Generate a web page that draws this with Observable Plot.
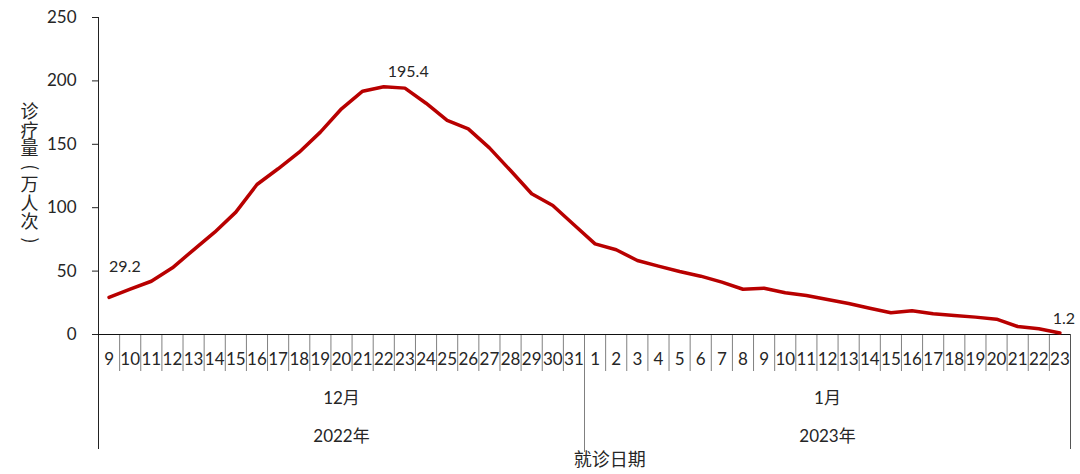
<!DOCTYPE html>
<html>
<head>
<meta charset="utf-8">
<script src="https://cdn.jsdelivr.net/npm/d3@7"></script>
<script src="https://cdn.jsdelivr.net/npm/@observablehq/plot@0.6"></script>
<style>
  html, body { margin: 0; padding: 0; background: #fff; }
</style>
</head>
<body>
<div id="chart"></div>
<script>
// daily visits (10k person-times), 2022-12-09 .. 2023-01-23
const days = [
  "9","10","11","12","13","14","15","16","17","18","19","20","21","22","23","24","25","26","27","28","29","30","31",
  "1","2","3","4","5","6","7","8","9","10","11","12","13","14","15","16","17","18","19","20","21","22","23"
];
const values = [
  29.2, 35.7, 42.0, 52.6, 66.8, 80.7, 96.5, 118.3, 130.7, 143.8, 159.6, 178.0, 191.9, 195.4, 194.3, 182.4, 168.8, 162.2, 147.2, 129.3, 111.0, 101.7, 86.5,
  71.5, 66.8, 58.4, 53.9, 49.7, 46.0, 41.3, 35.7, 36.5, 32.9, 30.8, 27.6, 24.4, 20.7, 17.1, 18.7, 16.3, 15.0, 13.7, 12.1, 6.3, 4.5, 1.2
];
const months = ["12月", "1月"];
const monthDays = [23, 23];
const years = ["2022年", "2023年"];
const yTicks = [0, 50, 100, 150, 200, 250];
const labelled = [0, 13, 45]; // indexes with a data label
const yTitle = ["诊", "疗", "量", "(", "万", "人", "次", ")"];

const data = values.map((v, i) => ({i, day: days[i], v}));

// month spans in index space
let start = 0;
const spans = months.map((m, k) => {
  const s = {label: m, year: years[k], from: start - 0.5, to: start + monthDays[k] - 0.5};
  start += monthDays[k];
  return s;
});
const monthBreaks = spans.slice(1).map(s => s.from);
const dayBreaks = d3.range(0, days.length - 1).map(i => i + 0.5).filter(b => !monthBreaks.includes(b));

const W = 1080, H = 474, mTop = 17, mBottom = 140, mLeft = 98, mRight = 10;
const yMax = 250;
const unit = yMax / (H - mTop - mBottom);
// pixels below the baseline expressed in y units
const below = px => -px * unit;
// absolute pixel row expressed in y units
const row = py => (H - mBottom - py) * unit;

const font = "Lato, 'Noto Sans CJK SC', sans-serif";
const cjk = "'Noto Sans CJK SC', sans-serif";
const ink = "#262626";
const lab = i => data[i];

const chart = Plot.plot({
  width: W,
  height: H,
  marginTop: mTop,
  marginBottom: mBottom,
  marginLeft: mLeft,
  marginRight: mRight,
  style: {fontFamily: font, color: ink, background: "#fff", overflow: "visible"},
  x: {type: "linear", domain: [-0.5, days.length - 0.5], axis: null},
  y: {domain: [0, yMax], axis: null},
  marks: [
    Plot.axisY({ticks: yTicks, tickSize: 6, tickPadding: 16, fontSize: 17, label: null, stroke: "#222", fill: ink}),
    Plot.ruleX([-0.5], {y1: below(115), y2: yMax, stroke: "#222"}),
    Plot.ruleX([days.length - 0.5], {y1: below(115), y2: 0, stroke: "#555"}),
    Plot.ruleX(monthBreaks, {y1: below(118), y2: 0, stroke: "#808080"}),
    Plot.ruleX(dayBreaks, {y1: below(37), y2: 0, stroke: "#808080"}),
    Plot.ruleY([0], {x1: -0.5, x2: days.length - 0.5, stroke: "#111"}),
    Plot.text(data, {x: "i", y: below(25), text: "day", fontSize: 17, fill: ink}),
    Plot.text(spans, {x: d => (d.from + d.to) / 2, y: below(64), text: "label", fontSize: 17, fill: ink}),
    Plot.text(spans, {x: d => (d.from + d.to) / 2, y: below(102), text: "year", fontSize: 17, fill: ink}),
    Plot.line(data, {x: "i", y: "v", stroke: "#b80000", strokeWidth: 3.5, strokeLinejoin: "round", strokeLinecap: "round"}),
    Plot.text([lab(labelled[0])], {x: "i", y: "v", text: d => d.v.toFixed(1), textAnchor: "start", dx: 0, dy: -31, fontSize: 16, fill: ink}),
    Plot.text([lab(labelled[1])], {x: "i", y: "v", text: d => d.v.toFixed(1), textAnchor: "start", dx: 4, dy: -15, fontSize: 16, fill: ink}),
    Plot.text([lab(labelled[2])], {x: "i", y: "v", text: d => d.v.toFixed(1), dx: 4, dy: -14, fontSize: 16, fill: ink}),
    Plot.text(yTitle, {frameAnchor: "left", textAnchor: "middle", dx: -69, y: (d, k) => row(112 + k * 18.3), text: d => d,
      rotate: d => (d === "(" || d === ")") ? 90 : 0, fontSize: 18, fontFamily: cjk, fill: ink}),
    Plot.text(["就诊日期"], {x: 23.7, y: below(126), fontSize: 18, fontFamily: cjk, fill: ink})
  ]
});

document.getElementById("chart").appendChild(chart);
</script>
</body>
</html>
